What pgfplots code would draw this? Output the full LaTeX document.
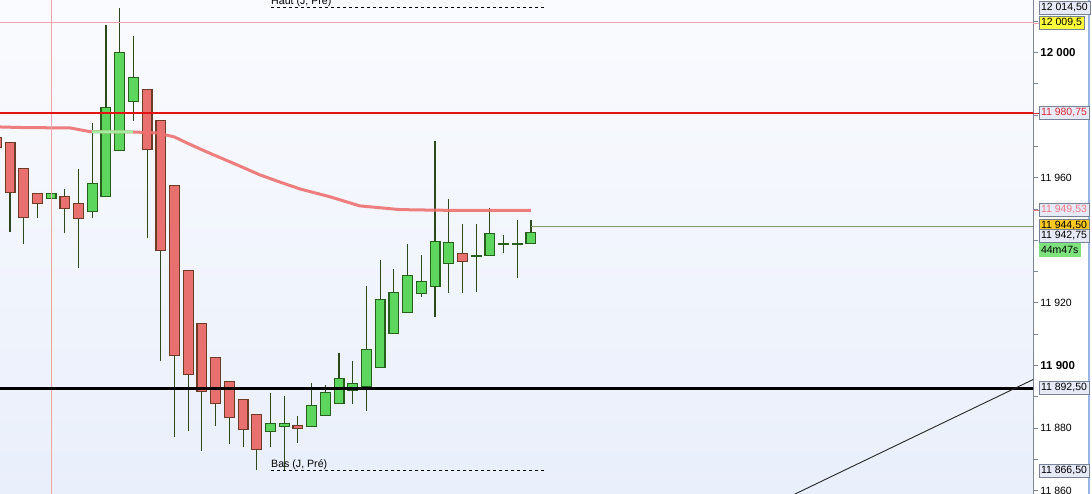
\documentclass[border=0pt]{standalone}
\usepackage{pgfplots}
\pgfplotsset{compat=1.18}
\usepackage{pgfplotstable}
\usepackage{fontspec}
\setmainfont{Liberation Sans}

\definecolor{bgtop}{RGB}{250,251,254}
\definecolor{bgbot}{RGB}{233,239,251}
\definecolor{gfill}{RGB}{92,214,92}
\definecolor{gborder}{RGB}{38,96,28}
\definecolor{rfill}{RGB}{232,112,110}
\definecolor{rborder}{RGB}{108,60,38}
\definecolor{wick}{RGB}{45,72,28}
\definecolor{maline}{RGB}{238,112,112}
\definecolor{magreen}{RGB}{160,240,160}
\definecolor{redline}{RGB}{228,18,18}
\definecolor{pinkline}{RGB}{240,165,170}
\definecolor{priceline}{RGB}{130,155,110}
\definecolor{axisgray}{RGB}{125,135,150}
\definecolor{boxfill}{RGB}{230,234,246}
\definecolor{boxborder}{RGB}{120,130,150}
\definecolor{ylw}{RGB}{255,255,60}
\definecolor{gold}{RGB}{250,200,30}
\definecolor{timegreen}{RGB}{125,225,125}
\definecolor{redtxt}{RGB}{220,40,50}
\definecolor{pinktxt}{RGB}{240,120,130}
\definecolor{stripblue}{RGB}{150,180,230}

% x = candle index, o h l c
\pgfplotstableread{
x o h l c
3 11953.2 11958.3 11951.9 11955.1
6 11949.0 11977.5 11947.1 11958.3
7 11953.8 12008.8 11953.8 11982.6
8 11968.5 12014.2 11968.5 12000.2
9 11984.2 12005.3 11978.1 11992.2
19 11878.8 11891.2 11873.9 11881.6
20 11880.4 11890.3 11866.5 11881.6
22 11880.4 11894.4 11880.4 11887.4
23 11883.9 11893.8 11883.9 11891.6
24 11887.7 11904.0 11887.7 11896.0
25 11891.9 11901.4 11887.7 11894.4
26 11893.1 11925.4 11885.5 11905.3
27 11899.2 11933.7 11899.2 11921.2
28 11910.1 11930.8 11910.1 11923.5
29 11916.8 11938.8 11916.8 11928.9
30 11922.8 11935.3 11921.9 11927.0
31 11925.1 11971.8 11915.5 11939.8
32 11932.4 11953.2 11923.2 11939.5
34 11934.7 11945.2 11923.5 11935.3
35 11935.0 11950.3 11935.0 11942.3
36 11938.5 11941.7 11935.9 11939.1
37 11938.6 11946.5 11928.0 11939.0
38 11938.8 11946.5 11938.8 11942.75
}\greencandles

\pgfplotstableread{
x o h l c
-1 11973.0 11973.0 11969.5 11969.5
0 11971.4 11971.4 11942.7 11955.1
1 11963.1 11963.1 11938.8 11947.1
2 11955.1 11955.1 11947.1 11951.6
4 11954.2 11956.4 11942.3 11950.0
5 11951.9 11962.8 11931.2 11946.8
10 11988.3 11988.3 11940.7 11968.8
11 11978.4 11978.4 11901.4 11936.6
12 11957.7 11957.7 11877.1 11903.0
13 11930.5 11930.5 11879.1 11897.0
14 11913.6 11913.6 11872.7 11891.6
15 11902.7 11902.7 11880.7 11887.7
16 11895.0 11895.0 11874.9 11883.2
17 11889.3 11889.3 11873.9 11879.4
18 11884.5 11884.5 11866.5 11873.0
21 11881.0 11883.9 11875.2 11879.7
33 11935.9 11945.2 11923.2 11933.1
}\redcandles

\pgfplotsset{
  wicks/.style={forget plot, draw=none, mark=none,
    error bars/.cd, y dir=plus, y explicit, error mark=none,
    error bar style={draw=wick, line width=1.1pt}},
  body/.style={forget plot, draw=none, mark=none,
    error bars/.cd, y dir=plus, y explicit, error mark=none,
    error bar style={draw=#1, line width=11pt}},
  bodyfill/.style={forget plot, draw=none, mark=none,
    error bars/.cd, y dir=plus, y explicit, error mark=none,
    error bar style={draw=#1, line width=8.6pt}},
}

\begin{document}
\begin{tikzpicture}[
  lab/.style={anchor=west, inner xsep=2.2pt, inner ysep=0pt, minimum height=12.5pt,
    font=\fontsize{10.5}{12}\selectfont},
  box/.style={lab, draw=boxborder, fill=boxfill, line width=0.6pt},
]
\useasboundingbox (0,0) rectangle (1092pt,494pt);
\clip (0,0) rectangle (1092pt,494pt);
\fill[white] (1033pt,0) rectangle (1092pt,494pt);
\draw[stripblue, line width=1.5pt] (1089pt,0) -- (1089pt,494pt);

\begin{axis}[
  at={(0,0)}, anchor=south west,
  scale only axis, width=1033pt, height=494pt,
  xmin=-0.7294, xmax=74.62, ymin=11858.95, ymax=12016.77,
  axis x line=none, axis y line*=right,
  y axis line style={draw=axisgray, line width=1pt},
  ytick={11860,11880,11900,11920,11960,12000},
  yticklabels={11~860,11~880,{\fontsize{11.5}{12}\selectfont\bfseries 11~900},11~920,11~960,{\fontsize{11.5}{12}\selectfont\bfseries 12~000}},
  minor ytick={11870,11890,11910,11930,11940,11950,11970,11980,11990,12010},
  yticklabel style={anchor=west, inner xsep=2.2pt, font=\fontsize{10.5}{12}\selectfont},
  scaled y ticks=false,
  tick align=outside, major tick length=5pt, minor tick length=5pt,
  ytick style={draw=axisgray, line width=0.8pt},
  minor tick style={draw=axisgray, line width=0.8pt},
  axis background/.style={top color=bgtop, bottom color=bgbot},
  clip mode=individual,
]
% wicks
\addplot[wicks] table[x=x, y=l, y error plus expr=\thisrow{h}-\thisrow{l}] {\greencandles};
\addplot[wicks] table[x=x, y=l, y error plus expr=\thisrow{h}-\thisrow{l}] {\redcandles};
% bodies
\addplot[body=gborder] table[x=x, y expr={min(\thisrow{o},\thisrow{c})},
  y error plus expr={abs(\thisrow{c}-\thisrow{o})}] {\greencandles};
\addplot[bodyfill=gfill] table[x=x, y expr={min(\thisrow{o},\thisrow{c})+0.32},
  y error plus expr={max(abs(\thisrow{c}-\thisrow{o})-0.64,0)}] {\greencandles};
\addplot[body=rborder] table[x=x, y expr={min(\thisrow{o},\thisrow{c})},
  y error plus expr={abs(\thisrow{c}-\thisrow{o})}] {\redcandles};
\addplot[bodyfill=rfill] table[x=x, y expr={min(\thisrow{o},\thisrow{c})+0.32},
  y error plus expr={max(abs(\thisrow{c}-\thisrow{o})-0.64,0)}] {\redcandles};

% moving average
\addplot[draw=maline, line width=3pt, line join=round, opacity=0.9] coordinates {
  (-0.73,11976.2) (1.09,11976.0) (4.38,11975.9) (5.84,11974.7) (8.97,11974.6)
  (10.72,11974.3) (12.0,11973.0) (12.9,11971.1) (14.37,11968.2) (16.56,11964.1)
  (18.23,11960.9) (19.69,11958.6) (21.15,11956.4) (23.34,11953.9) (25.5,11951.0)
  (28.45,11949.8) (31.36,11949.6) (38.0,11949.53)
};
\addplot[draw=magreen, line width=3pt] coordinates {(5.98,11974.65) (8.97,11974.6)};

% horizontal levels
\addplot[draw=pinkline, line width=0.8pt] coordinates {(-1,12009.5) (76,12009.5)};
\addplot[draw=pinkline, line width=0.8pt] coordinates {(3.03,11850) (3.03,12020)};
\addplot[draw=redline, line width=2pt] coordinates {(-1,11980.75) (76,11980.75)};
\addplot[draw=black, line width=3pt] coordinates {(-1,11892.5) (76,11892.5)};
\addplot[draw=priceline, line width=1pt] coordinates {(38,11944.5) (76,11944.5)};
\addplot[draw=black, line width=0.8pt, dash pattern=on 3pt off 3pt] coordinates {(19.04,12014.5) (39.0,12014.5)};
\addplot[draw=black, line width=0.8pt, dash pattern=on 3pt off 3pt] coordinates {(19.04,11866.5) (39.0,11866.5)};
% trend line
\addplot[draw=black!85, line width=0.9pt] coordinates {(57.0,11858.4) (75.0,11896.3)};

\node[anchor=base west, inner sep=0pt, font=\fontsize{10.6}{12}\selectfont] at (axis cs:19.04,12015.2) {Haut (J, Pré)};
\node[anchor=base west, inner sep=0pt, font=\fontsize{10.6}{12}\selectfont] at (axis cs:19.04,11867.35) {Bas (J, Pré)};
\end{axis}

% price scale labels
\draw[redtxt, line width=0.8pt] (1033pt,381pt) -- (1039pt,381pt);
\draw[pinktxt, line width=0.8pt] (1033pt,284pt) -- (1039pt,284pt);
\draw[pinkline, line width=0.8pt] (1033pt,471pt) -- (1039pt,471pt);
\node[box] at (1038.5pt,486pt) {12~014,50};
\node[box, fill=ylw] at (1038.5pt,471pt) {12~009,5};
\node[box, text=redtxt] at (1038.5pt,381pt) {11~980,75};
\node[box, text=pinktxt] at (1038.5pt,284pt) {11~949,53};
\node[box, fill=gold] at (1038.5pt,268pt) {11~944,50};
\node[box] at (1038.5pt,258pt) {11~942,75};
\node[box, fill=timegreen, draw=timegreen] at (1038.5pt,244pt) {44m47s};
\node[box] at (1038.5pt,106pt) {11~892,50};
\node[box] at (1038.5pt,23pt) {11~866,50};
\end{tikzpicture}
\end{document}
